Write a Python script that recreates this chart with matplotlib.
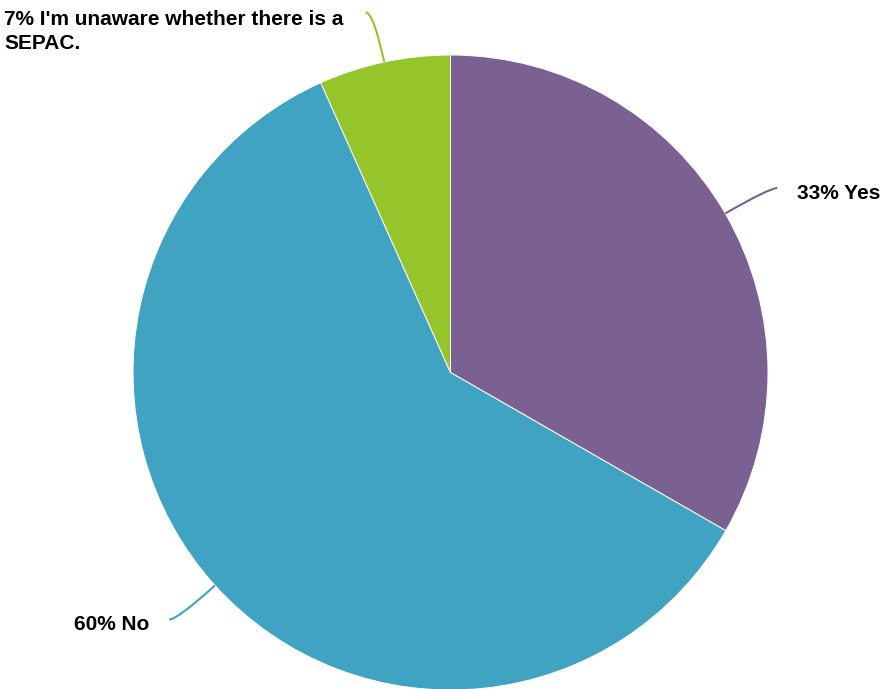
import numpy as np
import matplotlib
matplotlib.use("Agg")
from matplotlib import pyplot as plt
from matplotlib.path import Path
from matplotlib.patches import PathPatch

plt.rcParams['font.family'] = ['Liberation Sans', 'DejaVu Sans']

# data
labels = ["Yes", "No", "I'm unaware whether there is a\nSEPAC."]
values = [33.3, 60.0, 6.7]
pct_text = ["33%", "60%", "7%"]
colors = ["#7b6191", "#3fa3c1", "#95c52a"]

W, H = 886, 689
fig = plt.figure(figsize=(W / 100, H / 100), dpi=100)
ax = fig.add_axes([0, 0, 1, 1])

cx, cy, r = 450.5, H - 372.5, 317.5
wedges, _ = ax.pie(values, colors=colors, startangle=90, counterclock=False,
                   center=(cx, cy), radius=r,
                   wedgeprops=dict(edgecolor="white", linewidth=0.7))

ax.set_xlim(0, W)
ax.set_ylim(0, H)
ax.set_aspect("equal")
ax.axis("off")

# leader lines and labels
for w, lab, pct, col in zip(wedges, labels, pct_text, colors):
    ang = np.deg2rad((w.theta1 + w.theta2) / 2)
    ux, uy = np.cos(ang), np.sin(ang)
    p0 = (cx + r * ux, cy + r * uy)
    pc = (cx + 1.16 * r * ux, cy + 1.16 * r * uy)
    side = 1 if ux > 0 else -1
    p1 = (pc[0] + 8 * side, pc[1])
    path = Path([p0, pc, p1], [Path.MOVETO, Path.CURVE3, Path.CURVE3])
    ax.add_patch(PathPatch(path, fill=False, edgecolor=col, linewidth=1.5))
    txt = "%s %s" % (pct, lab)
    if "\n" in lab:
        ax.text(p1[0] - 22, p1[1] + 2, txt, ha="right", va="top",
                multialignment="left", fontsize=15, fontweight="bold",
                linespacing=1.3)
    else:
        ax.text(p1[0] + 20 * side, p1[1] - 5, txt,
                ha="left" if side > 0 else "right", va="center",
                fontsize=15, fontweight="bold")

fig.savefig("out.png", dpi=100)
